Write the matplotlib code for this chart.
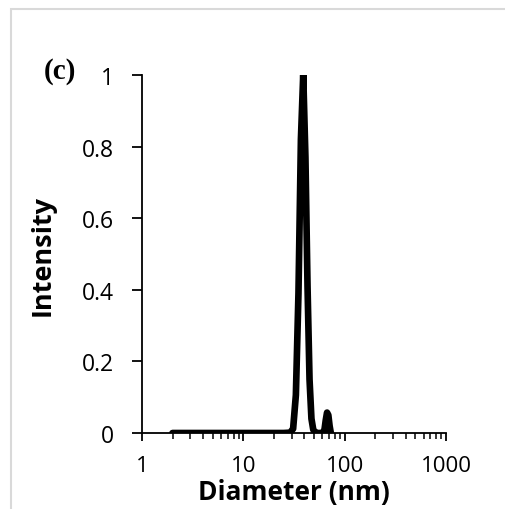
import matplotlib
matplotlib.use("Agg")
import matplotlib.pyplot as plt
from matplotlib.patches import Rectangle
from matplotlib.ticker import LogLocator, NullFormatter, FixedLocator

# size distribution
diameter = [2, 2.5, 3.2, 4, 5, 6.3, 8, 10, 12.6, 15.8, 20, 25, 29,
            31, 33, 35, 37, 39, 41, 43, 45, 47, 49, 52, 56,
            60, 63, 65, 67, 69, 71, 73]
intensity = [0, 0, 0, 0, 0, 0, 0, 0, 0, 0, 0, 0, 0.001,
             0.012, 0.106, 0.39, 0.82, 1.0, 0.77, 0.41, 0.15, 0.04, 0.009, 0, 0,
             0, 0.006, 0.035, 0.057, 0.05, 0.02, 0]

x_ticks = [1, 10, 100, 1000]
x_labels = ["1", "10", "100", "1000"]
y_ticks = [0, 0.2, 0.4, 0.6, 0.8, 1]
y_labels = ["0", "0.2", "0.4", "0.6", "0.8", "1"]

plt.rcParams['font.family'] = ['Open Sans', 'DejaVu Sans']

fig = plt.figure(figsize=(5.05, 5.10), dpi=100)
fig.patches.append(Rectangle((11 / 505, -0.1), 1.2, 1 - 10 / 510 + 0.1,
                             transform=fig.transFigure, fill=False,
                             edgecolor='#d9d9d9', linewidth=1.5))
ax = fig.add_axes([142 / 505, 76 / 510, 304 / 505, 358 / 510])

ax.plot(diameter, intensity, color='black', linewidth=4.8,
        solid_joinstyle='round', solid_capstyle='round')

ax.set_xscale('log')
ax.set_xlim(1, 1000)
ax.set_ylim(0, 1)
ax.xaxis.set_major_locator(FixedLocator(x_ticks))
ax.set_xticklabels(x_labels)
ax.xaxis.set_minor_locator(LogLocator(base=10, subs=range(2, 10)))
ax.xaxis.set_minor_formatter(NullFormatter())
ax.set_yticks(y_ticks)
ax.set_yticklabels(y_labels)

for s in ['top', 'right']:
    ax.spines[s].set_visible(False)
for s in ['left', 'bottom']:
    ax.spines[s].set_linewidth(1.3)

ax.tick_params(axis='x', which='major', direction='out', length=6,
               width=1.3, pad=10, labelsize=16)
ax.tick_params(axis='x', which='minor', direction='out', length=4, width=1.1)
ax.tick_params(axis='y', which='major', direction='out', length=7,
               width=1.3, pad=13, labelsize=16.5)

ax.set_xlabel("Diameter (nm)", fontsize=19, fontweight='bold', va='bottom')
ax.xaxis.set_label_coords(0.5, -0.2)
ax.set_ylabel("Intensity", fontsize=19.5, fontweight='bold')
ax.yaxis.set_label_coords(-0.285, 0.5)

ax.text(-0.27, 1.013, "(c)", transform=ax.transAxes, ha='center',
        va='center', fontsize=21, fontweight='bold',
        family=['Liberation Serif', 'DejaVu Serif'])

fig.savefig("out.png", dpi=100)
